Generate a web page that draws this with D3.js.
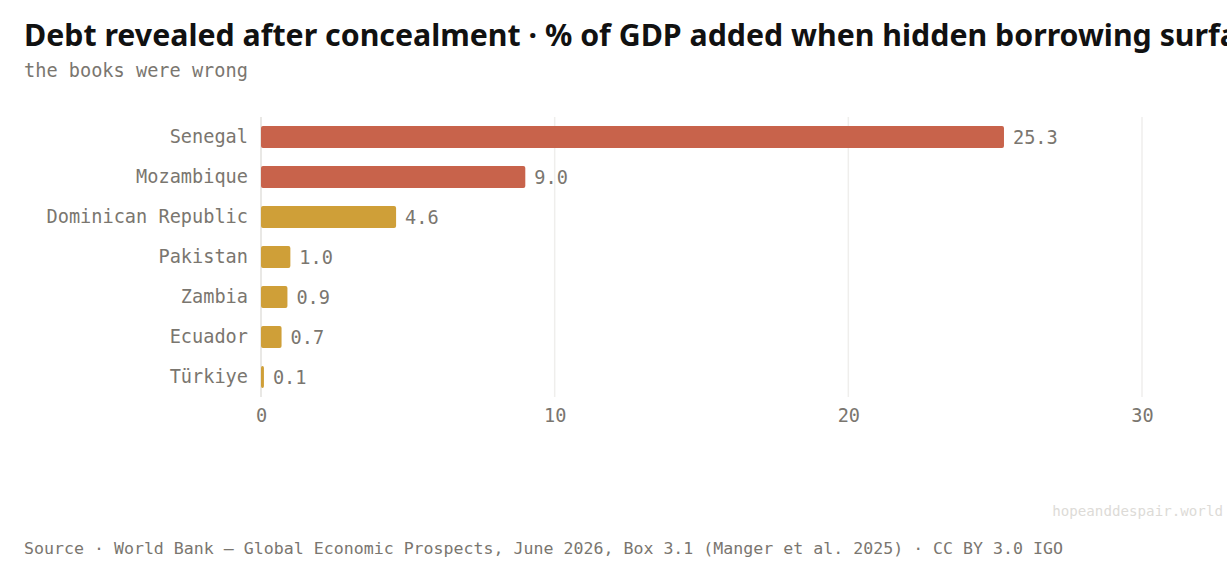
<!DOCTYPE html>
<html>
<head>
<meta charset="utf-8">
<script src="https://cdn.jsdelivr.net/npm/d3@7"></script>
<style>
  body { margin: 0; background: #fff; overflow: hidden; }
  svg { display: block; }
</style>
</head>
<body>
<svg id="chart" width="1227" height="571"></svg>
<script>
const data = [
  { country: "Senegal", value: 25.3, color: "#c8634b" },
  { country: "Mozambique", value: 9.0, color: "#c8634b" },
  { country: "Dominican Republic", value: 4.6, color: "#cf9f38" },
  { country: "Pakistan", value: 1.0, color: "#cf9f38" },
  { country: "Zambia", value: 0.9, color: "#cf9f38" },
  { country: "Ecuador", value: 0.7, color: "#cf9f38" },
  { country: "Türkiye", value: 0.1, color: "#cf9f38" }
];

const svg = d3.select("#chart");
const mono = "'DejaVu Sans Mono', monospace";
const grey = "#7a766f";

// Title and subtitle (title runs off the right edge, as in the original)
svg.append("text")
  .attr("x", 24).attr("y", 46)
  .attr("font-family", "'Noto Sans', sans-serif")
  .attr("font-weight", "bold")
  .attr("font-size", 30.3)
  .attr("fill", "#111")
  .text("Debt revealed after concealment · % of GDP added when hidden borrowing surfaced");

svg.append("text")
  .attr("x", 24).attr("y", 77)
  .attr("font-family", mono).attr("font-size", 18.6).attr("fill", grey)
  .text("the books were wrong");

// Scales
const x = d3.scaleLinear().domain([0, 30]).range([261, 1142]);
const y = d3.scaleBand()
  .domain(data.map(d => d.country))
  .range([117, 397])
  .paddingInner(0.45).paddingOuter(0.225);

// Grid
svg.append("g")
  .selectAll("line")
  .data(x.ticks(3))
  .join("line")
  .attr("x1", d => x(d)).attr("x2", d => x(d))
  .attr("y1", 117).attr("y2", 397)
  .attr("stroke", d => d === 0 ? "#e2e0dc" : "#efeeec")
  .attr("stroke-width", 1.5);

// Bars
svg.append("g")
  .selectAll("rect")
  .data(data)
  .join("rect")
  .attr("x", x(0))
  .attr("y", d => y(d.country))
  .attr("width", d => x(d.value) - x(0))
  .attr("height", y.bandwidth())
  .attr("rx", 2)
  .attr("fill", d => d.color);

// Value labels
svg.append("g")
  .selectAll("text")
  .data(data)
  .join("text")
  .attr("x", d => x(d.value) + 9)
  .attr("y", d => y(d.country) + y.bandwidth() / 2)
  .attr("dy", "0.35em")
  .attr("font-family", mono).attr("font-size", 18.6).attr("fill", grey)
  .text(d => d.value.toFixed(1));

// Category axis
svg.append("g")
  .attr("transform", "translate(261,0)")
  .call(d3.axisLeft(y).tickSize(0).tickPadding(13))
  .call(g => g.select(".domain").remove())
  .call(g => g.selectAll("text")
    .attr("font-family", mono).attr("font-size", 18.6).attr("fill", grey));

// Value axis
svg.append("g")
  .attr("transform", "translate(0,397)")
  .call(d3.axisBottom(x).ticks(3).tickSize(0).tickPadding(12))
  .call(g => g.select(".domain").remove())
  .call(g => g.selectAll("text")
    .attr("font-family", mono).attr("font-size", 18.6).attr("fill", grey));

// Footer
svg.append("text")
  .attr("x", 1223).attr("y", 516)
  .attr("text-anchor", "end")
  .attr("font-family", mono).attr("font-size", 14.2).attr("fill", "#dddbd7")
  .text("hopeanddespair.world");

svg.append("text")
  .attr("x", 24).attr("y", 554)
  .attr("font-family", mono).attr("font-size", 16.6).attr("fill", grey)
  .text("Source · World Bank — Global Economic Prospects, June 2026, Box 3.1 (Manger et al. 2025) · CC BY 3.0 IGO");
</script>
</body>
</html>
